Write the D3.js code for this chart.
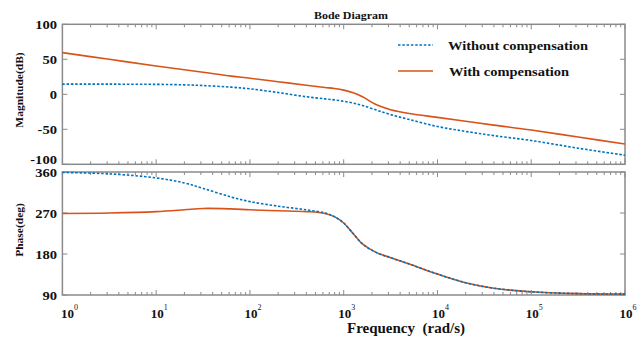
<!DOCTYPE html>
<html>
<head>
<meta charset="utf-8">
<script src="https://cdn.jsdelivr.net/npm/d3@7"></script>
<style>
  body { margin: 0; background: #fff; }
  text { font-family: "Liberation Serif", "Times New Roman", serif; font-weight: bold; fill: #111; }
</style>
</head>
<body>
<svg id="chart" width="644" height="339"></svg>
<script>
// frequency grid, as powers of ten (rad/s)
var freqExp = [0, 0.5, 1, 1.3, 1.5, 1.8, 2, 2.3, 2.6, 2.8, 2.9, 3, 3.1, 3.2, 3.35, 3.5, 3.7, 4, 4.3, 4.6, 5, 5.5, 6];

var magWithout = [14.5, 14.5, 14.2, 13.5, 12.5, 10.2, 7.8, 2.5, -3.5, -6.5, -8, -10, -12.5, -16, -22.5, -29, -36, -46, -53, -59, -66, -77, -87];
var magWith    = [59.5, 50, 40.5, 35, 31.5, 26, 23, 18, 13, 9.8, 8.3, 6, 2.2, -3.5, -15, -22, -27.5, -33, -38.5, -44, -51, -61, -71];
var phaseWithout = [359, 356, 347, 336, 324, 305, 295, 285, 277, 270, 262, 248, 225, 202, 183, 172, 158, 136, 117, 105, 97, 93, 92];
var phaseWith    = [269, 270, 273, 277, 280, 279, 277, 275, 273, 269, 262, 248, 225, 202, 183, 172, 158, 136, 117, 105, 97, 93, 92];

var magTicks = [-100, -50, 0, 50, 100];
var phaseTicks = [90, 180, 270, 360];
var decades = [0, 1, 2, 3, 4, 5, 6];
var seriesNames = ["Without compensation", "With compensation"];

var blue = "#0072BD", orange = "#D95319", frame = "#8a8a8a";

var svg = d3.select("#chart");
var left = 62.4, right = 625;

var x = d3.scaleLog().domain([1, 1e6]).range([left, right]);
var yMag = d3.scaleLinear().domain([-100, 100]).range([164.3, 24.3]);
var yPh = d3.scaleLinear().domain([90, 360]).range([295, 172]);

var freqs = freqExp.map(function(e) { return Math.pow(10, e); });

// text in the reference is a bit stretched sideways
function wideText(g, px, py, size, sx, anchor, str) {
    return g.append("text")
        .attr("transform", "translate(" + px + "," + py + ") scale(" + sx + ",1)")
        .attr("text-anchor", anchor)
        .attr("font-size", size + "px")
        .text(str);
}

function panel(y, ticks) {
    var g = svg.append("g");
    var y0 = y.range()[0], y1 = y.range()[1];

    // log minor + major ticks, top and bottom, inward
    var minor = [];
    for (var d = 0; d < 6; d++) {
        for (var k = 1; k < 10; k++) minor.push(k * Math.pow(10, d));
    }
    minor.push(1e6);
    minor.forEach(function(f) {
        var major = Math.abs(Math.log10(f) - Math.round(Math.log10(f))) < 1e-9;
        var len = major ? 5 : 3;
        g.append("line").attr("x1", x(f)).attr("x2", x(f))
            .attr("y1", y0).attr("y2", y0 - len)
            .attr("stroke", frame).attr("stroke-width", 1);
        g.append("line").attr("x1", x(f)).attr("x2", x(f))
            .attr("y1", y1).attr("y2", y1 + len)
            .attr("stroke", frame).attr("stroke-width", 1);
    });

    ticks.forEach(function(t) {
        g.append("line").attr("x1", left).attr("x2", left + 5)
            .attr("y1", y(t)).attr("y2", y(t))
            .attr("stroke", frame).attr("stroke-width", 1);
        g.append("line").attr("x1", right).attr("x2", right - 5)
            .attr("y1", y(t)).attr("y2", y(t))
            .attr("stroke", frame).attr("stroke-width", 1);
        var dy = (t == -100) ? 0 : 4.5;
        wideText(g, 57, y(t) + dy, 11.5, 1.27, "end", t);
    });

    g.append("rect")
        .attr("x", left).attr("y", y1)
        .attr("width", right - left).attr("height", y0 - y1)
        .attr("fill", "none").attr("stroke", frame).attr("stroke-width", 1.5);
}

panel(yMag, magTicks);
panel(yPh, phaseTicks);

function drawLine(y, vals, color, dashed) {
    var line = d3.line()
        .x(function(d, i) { return x(freqs[i]); })
        .y(function(d) { return y(d); })
        .curve(d3.curveCatmullRom.alpha(0.5));
    svg.append("path")
        .datum(vals)
        .attr("d", line)
        .attr("fill", "none")
        .attr("stroke", color)
        .attr("stroke-width", 1.6)
        .attr("stroke-dasharray", dashed ? "2.5,1.8" : null);
}

drawLine(yMag, magWith, orange, false);
drawLine(yMag, magWithout, blue, true);
drawLine(yPh, phaseWith, orange, false);
drawLine(yPh, phaseWithout, blue, true);

// x tick labels 10^k
decades.forEach(function(d) {
    var t = svg.append("text")
        .attr("x", x(Math.pow(10, d)) + (d == 0 ? 7 : 3))
        .attr("y", 318)
        .attr("text-anchor", "middle")
        .attr("font-size", "13px");
    t.append("tspan").text("10");
    t.append("tspan").attr("dy", -8).attr("font-size", "8px").attr("font-weight", "normal").text(d);
});

svg.append("text")
    .attr("x", 406).attr("y", 333)
    .attr("text-anchor", "middle")
    .attr("font-size", "15px")
    .attr("xml:space", "preserve")
    .text("Frequency  (rad/s)");

wideText(svg, 351, 19, 10.6, 1.13, "middle", "Bode Diagram");

svg.append("text")
    .attr("transform", "translate(23,90) rotate(-90) scale(1.15,1)")
    .attr("text-anchor", "middle")
    .attr("font-size", "10px")
    .text("Magnitude(dB)");

svg.append("text")
    .attr("transform", "translate(23,230) rotate(-90) scale(1.15,1)")
    .attr("text-anchor", "middle")
    .attr("font-size", "10px")
    .text("Phase(deg)");

// legend
var legend = svg.append("g");
seriesNames.forEach(function(name, i) {
    var ly = 45 + i * 26;
    legend.append("line")
        .attr("x1", 398).attr("x2", 433)
        .attr("y1", ly).attr("y2", ly)
        .attr("stroke", i == 0 ? blue : orange)
        .attr("stroke-width", 1.6)
        .attr("stroke-dasharray", i == 0 ? "2.5,1.8" : null);
    wideText(legend, i == 0 ? 448 : 449, ly + 4.5, 11.7, 1.24, "start", name);
});
</script>
</body>
</html>
